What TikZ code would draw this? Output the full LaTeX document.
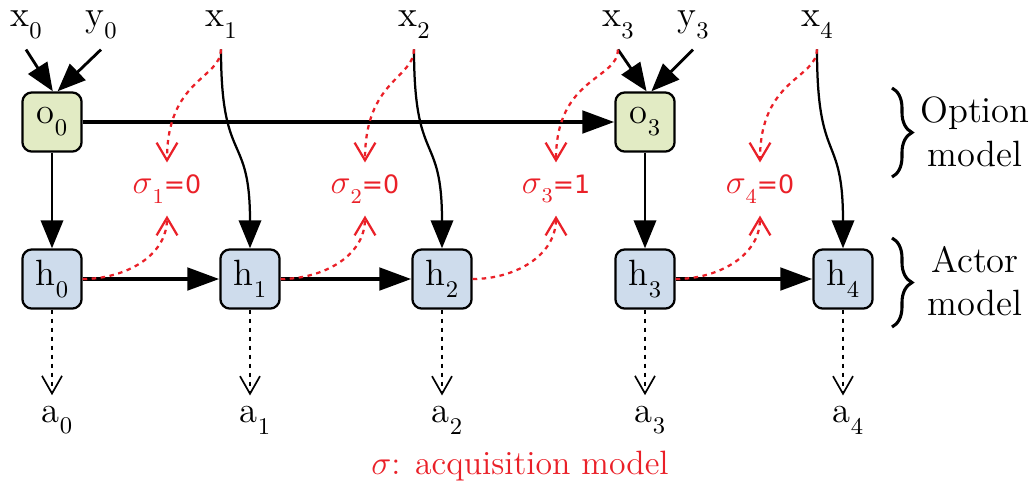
\documentclass[tikz,border=0pt]{standalone}
\usepackage{fontspec}
\usepackage{amsmath}
\usepackage{tikz}
\usetikzlibrary{arrows.meta,decorations.pathreplacing}
\newfontfamily\sigfont{DejaVu Sans}
\definecolor{optgreen}{RGB}{226,235,196}
\definecolor{actblue}{RGB}{206,220,236}
\definecolor{acqred}{RGB}{234,32,40}
\newcommand{\lbl}[2]{#1\raisebox{-4.2pt}{\fontsize{8.5}{8.5}\selectfont #2}}
\newcommand{\sig}[2]{{\fontsize{12.5}{13}\selectfont$\sigma$}\raisebox{-3.4pt}{\fontsize{7.5}{7.5}\selectfont #1}{\sigfont\fontsize{9}{11}\selectfont =#2}}

\begin{document}
\begin{tikzpicture}[x=0.0125cm, y=0.0125cm, line width=0.8pt,
        every node/.style={font=\fontsize{13}{15.5}\selectfont},
        optbox/.style={draw, rounded corners=0.12cm, fill=optgreen, minimum size=0.74cm, inner sep=0pt},
        actbox/.style={optbox, fill=actblue},
        sigma/.style={text=acqred, inner sep=4pt},
        link/.style={-{Triangle[length=3.5mm,width=2.8mm]}},
        step link/.style={link, line width=1.4pt, -{Triangle[length=4mm,width=2.8mm]}},
        sway/.style={out=-90, in=90, looseness=1.5},
        acq/.style={acqred, dash pattern=on 1.6pt off 1.6pt, -{Straight Barb[length=2.2mm,width=2.6mm]}},
        acq sway/.style={out=-90, in=90, out looseness=0.6, in looseness=1.7},
        act/.style={dash pattern=on 1.6pt off 1.6pt, line width=0.6pt, -{Straight Barb[length=2.2mm,width=2.5mm]}},
        curly/.style={decorate, decoration={brace, amplitude=0.25cm}, line width=1.1pt}]
        \useasboundingbox (0,0) rectangle (1032,-488);

        \node(O0) [optbox] at (52, -122) {\lbl{o}{0}};
        \node(O3) [optbox] at (645, -122) {\lbl{o}{3}};

        \node(H0) [actbox] at (52, -279) {\lbl{h}{0}};
        \node(H1) [actbox] at (250, -279) {\lbl{h}{1}};
        \node(H2) [actbox] at (442, -279) {\lbl{h}{2}};
        \node(H3) [actbox] at (645, -279) {\lbl{h}{3}};
        \node(H4) [actbox] at (843, -279) {\lbl{h}{4}};

        \node(X0) at (26, -25) {\lbl{x}{0}};
        \node(Y0) at (101, -25) {\lbl{y}{0}};
        \node(X1) at (221, -25) {\lbl{x}{1}};
        \node(X2) at (414, -25) {\lbl{x}{2}};
        \node(X3) at (618, -25) {\lbl{x}{3}};
        \node(Y3) at (693, -25) {\lbl{y}{3}};
        \node(X4) at (817, -25) {\lbl{x}{4}};

        \node(A0) at (57, -420) {\lbl{a}{0}};
        \node(A1) at (255, -420) {\lbl{a}{1}};
        \node(A2) at (447, -420) {\lbl{a}{2}};
        \node(A3) at (650, -420) {\lbl{a}{3}};
        \node(A4) at (848, -420) {\lbl{a}{4}};

        \node(S1) [sigma] at (167, -189) {\sig{1}{0}};
        \node(S2) [sigma] at (365, -189) {\sig{2}{0}};
        \node(S3) [sigma] at (556, -189) {\sig{3}{1}};
        \node(S4) [sigma] at (760, -189) {\sig{4}{0}};

        \node(OPT) [align=center] at (975, -132) {Option\\model};
        \node(ACT) [align=center] at (975, -281) {Actor\\model};
        \node(CAP) [text=acqred, font=\fontsize{12}{14}\selectfont] at (520, -466) {$\sigma$: acquisition model};

        % option and actor chains
        \draw[step link] (O0) edge (O3) (H0) edge (H1) (H1) edge (H2) (H3) edge (H4);
        \draw[link] (O0) edge (H0) (O3) edge (H3)
                    (X1) edge[sway] (H1) (X2) edge[sway] (H2) (X4) edge[sway] (H4);
        \draw[line width=1pt] (X0.south) edge[link] ([xshift=0.01cm]O0.north) (Y0.south) edge[link] ([xshift=0.07cm]O0.north)
                    (X3.south) edge[link] ([xshift=0.02cm]O3.north) (Y3.south) edge[link] ([xshift=0.08cm]O3.north);

        % acquisition
        \draw[acq] (X1) edge[acq sway] (S1) (X2) edge[acq sway] (S2)
                   (X3) edge[acq sway] (S3) (X4) edge[acq sway] (S4)
                   (H0) edge[out=0, in=-90] (S1) (H1) edge[out=0, in=-90] (S2)
                   (H2) edge[out=0, in=-90] (S3) (H3) edge[out=0, in=-90] (S4);

        % actions
        \draw[dash pattern=on 1.6pt off 1.6pt, line width=0.6pt]
                   (H0.south) edge[act] (H0.south |- A0.north) (H1.south) edge[act] (H1.south |- A1.north)
                   (H2.south) edge[act] (H2.south |- A2.north) (H3.south) edge[act] (H3.south |- A3.north)
                   (H4.south) edge[act] (H4.south |- A4.north);

        \draw[curly] (892, -88) -- (892, -177);
        \draw[curly] (892, -238) -- (892, -327);
      \end{tikzpicture}
\end{document}
